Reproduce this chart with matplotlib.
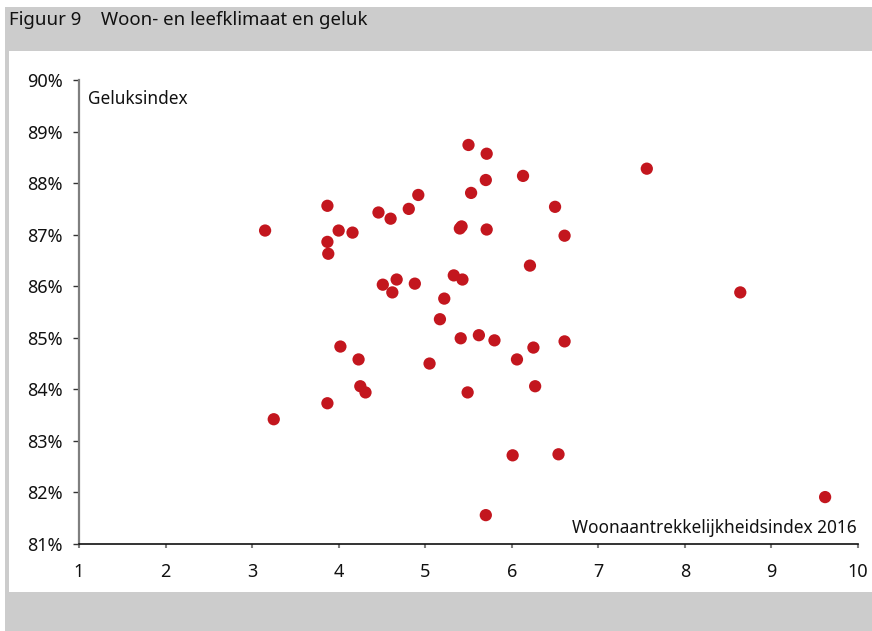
import matplotlib
matplotlib.use('Agg')
import matplotlib.pyplot as plt
from matplotlib.patches import Rectangle
from matplotlib.ticker import FuncFormatter

plt.rcParams['font.family'] = ['Noto Sans', 'DejaVu Sans']

# Woonaantrekkelijkheidsindex 2016 (x) en geluksindex in % (y)
woon = [3.15, 3.25, 3.87, 3.87, 3.88, 3.87, 4.00, 4.02, 4.16, 4.23,
        4.25, 4.31, 4.46, 4.51, 4.60, 4.62, 4.67, 4.81, 4.88, 4.92,
        5.05, 5.17, 5.22, 5.33, 5.40, 5.42, 5.41, 5.43, 5.50, 5.53,
        5.49, 5.62, 5.71, 5.70, 5.71, 5.70, 5.80, 6.01, 6.06, 6.13,
        6.21, 6.25, 6.27, 6.50, 6.54, 6.61, 6.61, 7.56, 8.64, 9.62]
geluk = [87.08, 83.42, 87.56, 86.86, 86.63, 83.73, 87.08, 84.83, 87.04, 84.58,
         84.06, 83.94, 87.43, 86.03, 87.31, 85.88, 86.13, 87.50, 86.05, 87.77,
         84.50, 85.36, 85.76, 86.21, 87.12, 87.16, 84.99, 86.13, 88.74, 87.81,
         83.94, 85.05, 88.57, 88.06, 87.10, 81.56, 84.95, 82.72, 84.58, 88.14,
         86.40, 84.81, 84.06, 87.54, 82.74, 86.98, 84.93, 88.28, 85.88, 81.91]

W, H = 872, 631
fig = plt.figure(figsize=(W / 100, H / 100), dpi=100)

# grijze kader met wit vlak (achter de assen)
fig.patches.append(Rectangle((5 / W, 0), 1 - 5 / W, 1 - 7 / H, transform=fig.transFigure,
                             facecolor='#cccccc', edgecolor='none', zorder=-2))
fig.patches.append(Rectangle((9 / W, (H - 592) / H), 1 - 9 / W, (592 - 51) / H,
                             transform=fig.transFigure, facecolor='white',
                             edgecolor='none', zorder=-1))

fig.text(9 / W, 1 - 20 / H, 'Figuur 9    Woon- en leefklimaat en geluk',
         fontsize=13.4, va='center', ha='left', color='#111111')

ax = fig.add_axes([79 / W, (H - 544) / H, (858 - 79) / W, (544 - 80) / H])
ax.patch.set_alpha(0)
ax.scatter(woon, geluk, s=78, color='#c3161e', edgecolors='none', zorder=3, clip_on=False)

ax.set_xlim(1, 10)
ax.set_ylim(81, 90)
ax.set_xticks(range(1, 11))
ax.set_yticks(range(81, 91))
ax.yaxis.set_major_formatter(FuncFormatter(lambda v, p: '%d%%' % v))

for s in ['top', 'right']:
    ax.spines[s].set_visible(False)
ax.spines['left'].set_color('#7f7f7f')
ax.spines['left'].set_linewidth(1.6)
ax.spines['bottom'].set_color('#111111')
ax.spines['bottom'].set_linewidth(1.2)

ax.tick_params(axis='y', length=4.5, width=1, color='#333333', pad=7, labelsize=13,
               labelcolor='#111111')
ax.tick_params(axis='x', length=3, width=1.5, color='#7f7f7f', pad=11, labelsize=13,
               labelcolor='#111111')

ax.text(88 / W, 1 - 99 / H, 'Geluksindex', transform=fig.transFigure,
        fontsize=12.4, va='center', ha='left', color='#111111')
ax.text(857 / W, 1 - 528 / H, 'Woonaantrekkelijkheidsindex 2016', transform=fig.transFigure,
        fontsize=12.4, va='center', ha='right', color='#111111')

fig.savefig('out.png', dpi=100)
